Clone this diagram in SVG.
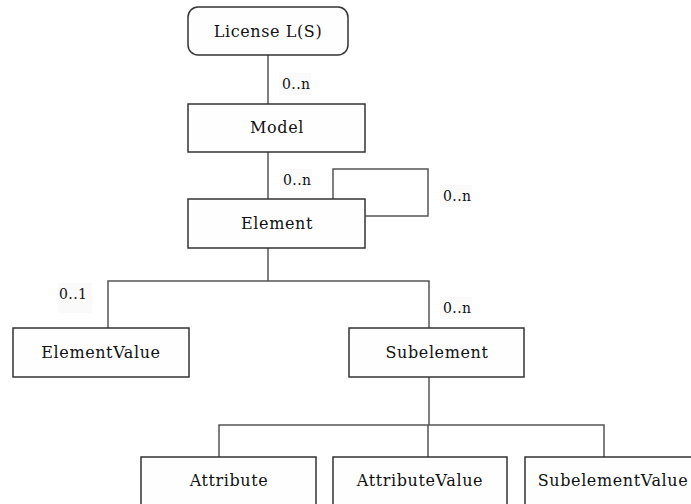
<svg xmlns="http://www.w3.org/2000/svg" width="691" height="504" viewBox="0 0 691 504">
<style>
.box{fill:#fefefe;stroke:#333;stroke-width:1.5}
text{font-family:'DejaVu Serif','Liberation Serif',serif}
.t{font-size:16px;letter-spacing:0.6px;fill:#111;text-anchor:middle}
.lbl{font-size:14px;letter-spacing:0.4px;fill:#111}
.lb{fill:#fafafa}
.c{fill:none;stroke:#555;stroke-width:1.5}
</style>
<rect width="691" height="504" fill="#fff"/>
<g id="connectors">
<path class="c" d="M268,55V104"/>
<path class="c" d="M268,152V199"/>
<path class="c" d="M333,199V169H428V216H365"/>
<path class="c" d="M268,248V281M108,328V281H429V328"/>
<path class="c" d="M429,377V425M219,457V425H604V457M428,425V457"/>
</g>
<g id="labels">
<rect class="lb" x="279" y="73" width="32" height="22"/>
<text class="lbl" x="282" y="89">0..n</text>
<rect class="lb" x="280" y="169" width="32" height="22"/>
<text class="lbl" x="283" y="185">0..n</text>
<rect class="lb" x="440" y="185" width="32" height="22"/>
<text class="lbl" x="443" y="201">0..n</text>
<rect class="lb" x="58" y="283" width="34" height="30"/>
<text class="lbl" x="59" y="299">0..1</text>
<rect class="lb" x="440" y="297" width="32" height="22"/>
<text class="lbl" x="443" y="313">0..n</text>
</g>
<g id="license">
<rect class="box" x="188" y="7" width="160" height="48" rx="10"/>
<text class="t" x="268" y="37">License L(S)</text>
</g>
<g id="model">
<rect class="box" x="188" y="104" width="177" height="48"/>
<text class="t" x="277" y="133">Model</text>
</g>
<g id="element">
<rect class="box" x="188" y="199" width="177" height="49"/>
<text class="t" x="277" y="229">Element</text>
</g>
<g id="elementvalue">
<rect class="box" x="13" y="328" width="176" height="49"/>
<text class="t" x="101" y="358">ElementValue</text>
</g>
<g id="subelement">
<rect class="box" x="349" y="328" width="175" height="49"/>
<text class="t" x="437" y="358">Subelement</text>
</g>
<g id="attribute">
<rect class="box" x="141" y="457" width="175" height="60"/>
<text class="t" x="229" y="486">Attribute</text>
</g>
<g id="attributevalue">
<rect class="box" x="333" y="457" width="174" height="60"/>
<text class="t" x="420" y="486">AttributeValue</text>
</g>
<g id="subelementvalue">
<rect class="box" x="525" y="457" width="175" height="60"/>
<text class="t" x="613" y="486">SubelementValue</text>
</g>
</svg>
